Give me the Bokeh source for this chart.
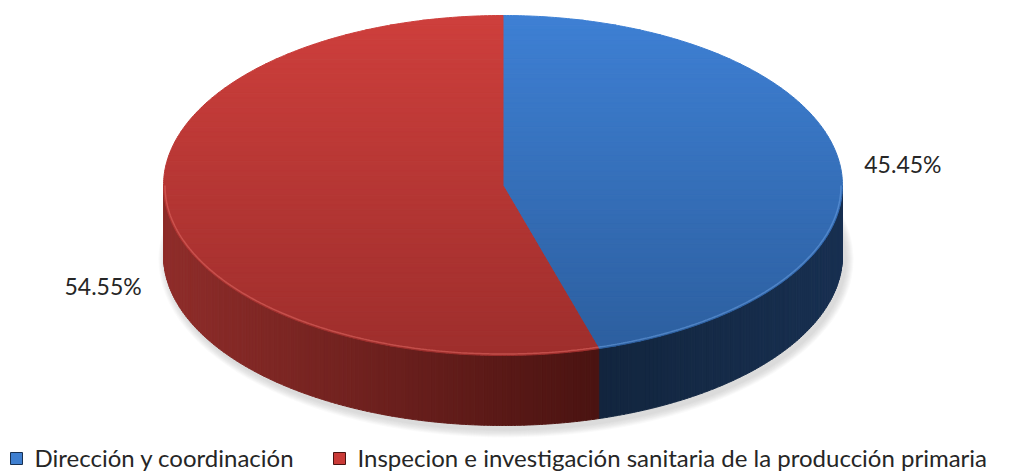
import numpy as np
from bokeh.plotting import figure
from bokeh.models import Range1d
from bokeh.embed import file_html
from bokeh.resources import INLINE
from bokeh.core.properties import value

# ---- data ----
categories = ["Dirección y coordinación",
              "Inspecion e investigación sanitaria de la producción primaria"]
values = [45.45, 54.55]
labels = ["45.45%", "54.55%"]

# ---- style ----
top_colors = [("#3e80d4", "#2c5e9e"), ("#ce3f3c", "#9e2e2c")]
side_colors = [("#12253e", "#183051"), ("#8f2d2a", "#4a1311")]
rim_colors = ["#6a9ee0", "#e06a64"]
legend_colors = ["#3f7fd0", "#c93a37"]
FONT = "Lato"

W, H = 1010, 471
cx, cy, rx, ry, depth = 502.5, 185.0, 339.5, 170.0, 70.0

p = figure(width=W, height=H, x_range=Range1d(0, W), y_range=Range1d(H, 0),
           output_backend="svg", toolbar_location=None, min_border=0,
           outline_line_color=None, background_fill_color="white",
           border_fill_color="white")
p.axis.visible = False
p.grid.visible = False


def hexmix(c0, c1, f):
    a = np.array([int(c0[i:i + 2], 16) for i in (1, 3, 5)], float)
    b = np.array([int(c1[i:i + 2], 16) for i in (1, 3, 5)], float)
    c = a + (b - a) * f
    return "#%02x%02x%02x" % tuple(int(round(v)) for v in c)


def ex(t):
    return cx + rx * np.sin(t)


def ey(t):
    return cy - ry * np.cos(t)


def clip(xs, ys, yv, keep_below):
    ox, oy = [], []
    n = len(xs)
    for i in range(n):
        x1, y1 = xs[i], ys[i]
        x2, y2 = xs[(i + 1) % n], ys[(i + 1) % n]
        in1 = (y1 >= yv) if keep_below else (y1 <= yv)
        in2 = (y2 >= yv) if keep_below else (y2 <= yv)
        if in1:
            ox.append(x1); oy.append(y1)
        if in1 != in2:
            f = (yv - y1) / (y2 - y1)
            ox.append(x1 + f * (x2 - x1)); oy.append(yv)
    return ox, oy


# angles (clockwise from 12 o'clock)
total = sum(values)
starts, ends = [], []
acc = 0.0
for v in values:
    starts.append(acc / total * 2 * np.pi)
    acc += v
    ends.append(acc / total * 2 * np.pi)

# ---- soft shadow ----
for k in range(8, 0, -1):
    p.ellipse(x=[cx + 3], y=[cy + depth + 4], width=2 * rx + 2 * k, height=2 * ry + 2 * k,
              fill_color="#9a9a9a", fill_alpha=0.05, line_color=None)

# ---- side walls (front half only) ----
for i in range(len(values)):
    a0 = max(starts[i], np.pi / 2)
    a1 = min(ends[i], 3 * np.pi / 2)
    if a1 <= a0:
        continue
    n = max(int((a1 - a0) / np.pi * 240), 4)
    ts = np.linspace(a0, a1, n + 1)
    xs_l, ys_l, cols = [], [], []
    xa, xb = ex(a0), ex(a1)
    lo, span = min(xa, xb), abs(xb - xa) + 1e-9
    for j in range(n):
        t = np.linspace(ts[j], ts[j + 1], 4)
        px = list(ex(t)) + list(ex(t[::-1]))
        py = list(ey(t)) + list(ey(t[::-1]) + depth)
        xs_l.append(px); ys_l.append(py)
        xm = ex((ts[j] + ts[j + 1]) / 2)
        f = (xm - lo) / span
        cols.append(hexmix(side_colors[i][0], side_colors[i][1], f))
    p.patches(xs_l, ys_l, fill_color=cols, line_color=cols, line_width=1)

# ---- top faces with vertical gradient ----
for i in range(len(values)):
    t = np.linspace(starts[i], ends[i], 300)
    wx = [cx] + list(ex(t))
    wy = [cy] + list(ey(t))
    nb = 70
    edges = np.linspace(cy - ry, cy + ry, nb + 1)
    bx, by, bc = [], [], []
    for j in range(nb):
        qx, qy = clip(wx, wy, edges[j], True)
        if len(qx) < 3:
            continue
        qx, qy = clip(qx, qy, edges[j + 1], False)
        if len(qx) < 3:
            continue
        bx.append(qx); by.append(qy)
        bc.append(hexmix(top_colors[i][0], top_colors[i][1], (j + 0.5) / nb))
    p.patches(bx, by, fill_color=bc, line_color=bc, line_width=1)

# rim highlight on the front edge of the top face
for i in range(len(values)):
    a0 = max(starts[i], np.pi / 2)
    a1 = min(ends[i], 3 * np.pi / 2)
    if a1 <= a0:
        continue
    t = np.linspace(a0, a1, 200)
    p.line(cx + (rx - 1.5) * np.sin(t), cy - (ry - 1.5) * np.cos(t),
           line_color=rim_colors[i], line_alpha=0.55, line_width=1.5)

# ---- data labels ----
label_dy = [-22, 100]
mids = [(s + e) / 2 for s, e in zip(starts, ends)]
lx = [cx + 1.19 * rx * np.sin(m) for m in mids]
ly = [cy + d for d in label_dy]
p.text(x=lx, y=ly, text=labels, text_font=value(FONT), text_font_size="23px",
       text_color="#262626", text_align="center", text_baseline="middle")

# ---- legend ----
leg_sq_x = [16, 339]
leg_y = 457
p.rect(x=leg_sq_x, y=[leg_y + 1] * 2, width=12, height=12, fill_color=legend_colors,
       line_color=[side_colors[0][1], side_colors[1][1]], line_width=1)
p.text(x=[x + 18 for x in leg_sq_x], y=[leg_y] * 2, text=categories,
       text_font=value(FONT), text_font_size="24px", text_color="#262626",
       text_align="left", text_baseline="middle")

open("out.html", "w").write(file_html(p, INLINE))
